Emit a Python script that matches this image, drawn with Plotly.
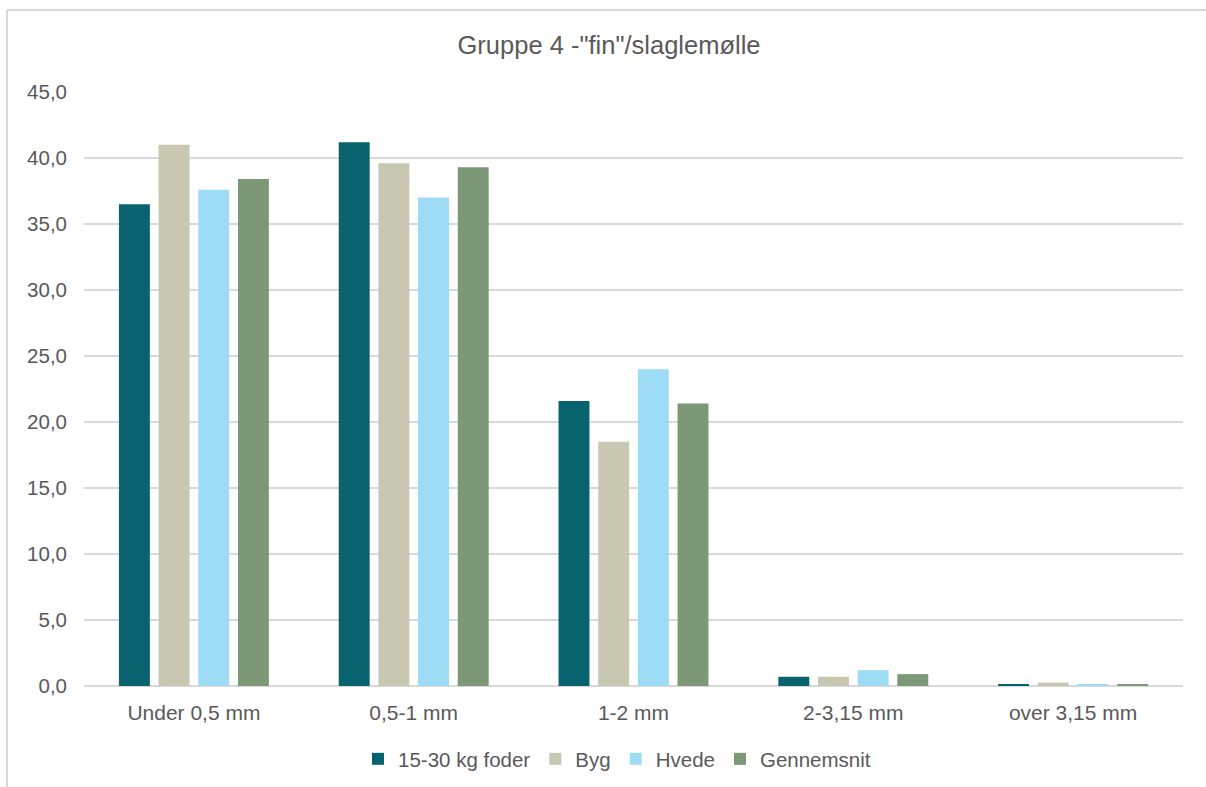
import plotly.graph_objects as go

# Particle size distribution, group 4 ("fin" / hammer mill)
categories = ["Under 0,5 mm", "0,5-1 mm", "1-2 mm", "2-3,15 mm", "over 3,15 mm"]
series_names = ["15-30 kg foder", "Byg", "Hvede", "Gennemsnit"]
foder_15_30 = [36.5, 41.2, 21.6, 0.7, 0.15]
byg = [41.0, 39.6, 18.5, 0.7, 0.25]
hvede = [37.6, 37.0, 24.0, 1.2, 0.15]
gennemsnit = [38.4, 39.3, 21.4, 0.9, 0.15]
y_ticks = [0, 5, 10, 15, 20, 25, 30, 35, 40, 45]

colors = ["#08636F", "#C8C8B2", "#9EDCF6", "#7C9877"]
text_color = "#595959"
grid_color = "#D9D9D9"

W, H = 1206, 787
ML, MR, MT, MB = 84, 23, 92, 101
plot_w = W - ML - MR
plot_h = H - MT - MB


def px_to_paper_x(px):
    return (px - ML) / plot_w


def px_to_paper_y(py):
    return (H - MB - py) / plot_h


fig = go.Figure()
for name, vals, col in zip(series_names, [foder_15_30, byg, hvede, gennemsnit], colors):
    fig.add_trace(go.Bar(
        name=name, x=categories, y=vals,
        marker=dict(color=col, line=dict(width=0)),
        hovertemplate="%{x}: %{y:.1f}<extra>" + name + "</extra>",
    ))

font_family = "Liberation Sans, Arial, sans-serif"

fig.update_layout(
    width=W, height=H,
    margin=dict(l=ML, r=MR, t=MT, b=MB, pad=0, autoexpand=False),
    paper_bgcolor="white", plot_bgcolor="white",
    separators=",.",
    barmode="group", bargap=0.278, bargroupgap=0.22,
    font=dict(family=font_family, color=text_color, size=20),
    title=dict(
        text='Gruppe 4 -"fin"/slaglemølle',
        x=0.505, xanchor="center", y=1 - 45 / H, yanchor="middle",
        font=dict(size=25.5, color=text_color, family=font_family),
    ),
    xaxis=dict(
        showgrid=False, showline=False, zeroline=False, ticks="",
        tickfont=dict(size=21, color=text_color),
        ticklabelstandoff=12, automargin=False,
    ),
    yaxis=dict(
        range=[0, 45], tickvals=y_ticks, tickformat=".1f",
        showgrid=True, gridcolor=grid_color, gridwidth=1.5,
        zeroline=True, zerolinecolor=grid_color, zerolinewidth=1.5,
        showline=False, ticks="",
        tickfont=dict(size=20.5, color=text_color),
        ticklabelstandoff=16, automargin=False,
    ),
    legend=dict(
        orientation="h", x=px_to_paper_x(358), xanchor="left",
        y=px_to_paper_y(759), yanchor="middle",
        font=dict(size=20.5, color=text_color),
        itemsizing="constant", traceorder="normal",
        itemwidth=30,
    ),
    showlegend=True,
)

# chart frame: thin top and left edges
fig.add_shape(type="line", xref="paper", yref="paper",
              x0=px_to_paper_x(7), x1=px_to_paper_x(W + 2),
              y0=px_to_paper_y(10), y1=px_to_paper_y(10),
              line=dict(color=grid_color, width=2), layer="below")
fig.add_shape(type="line", xref="paper", yref="paper",
              x0=px_to_paper_x(7), x1=px_to_paper_x(7),
              y0=px_to_paper_y(10), y1=px_to_paper_y(H + 2),
              line=dict(color=grid_color, width=2), layer="below")

fig.write_html("out.html")
